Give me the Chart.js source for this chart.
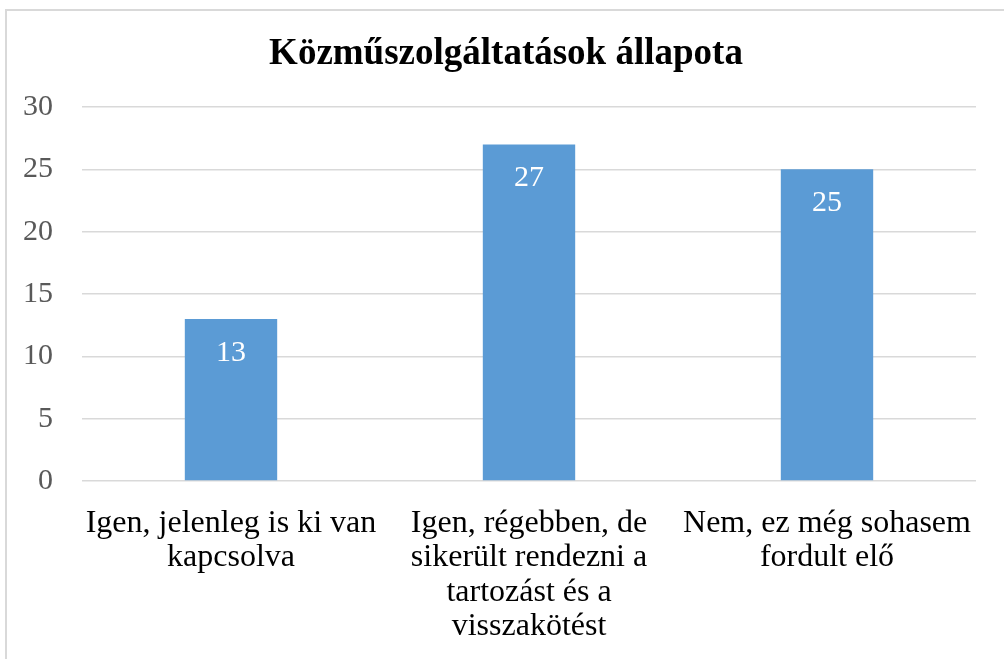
<!DOCTYPE html>
<html>
<head>
<meta charset="utf-8">
<script src="https://cdn.jsdelivr.net/npm/chart.js@4"></script>
<style>
  html, body { margin: 0; padding: 0; background: #fff; }
  #frame {
    position: absolute; left: 5px; top: 9px; width: 999px; height: 650px;
    border-left: 2px solid #d9d9d9; border-top: 2px solid #d9d9d9;
  }
  #chart { position: absolute; left: 0; top: 0; }
</style>
</head>
<body>
<div id="frame"></div>
<canvas id="chart" width="1004" height="659"></canvas>
<script>
const categories = [
  ['Igen, jelenleg is ki van', 'kapcsolva'],
  ['Igen, régebben, de', 'sikerült rendezni a', 'tartozást és a', 'visszakötést'],
  ['Nem, ez még sohasem', 'fordult elő']
];
const counts = [13, 27, 25];
const chartTitle = 'Közműszolgáltatások állapota';

const serif = '"Liberation Serif", "Times New Roman", serif';

// white value labels just inside the top of each bar
const barValueLabels = {
  id: 'barValueLabels',
  afterLayout(chart) {
    // centre the title over the framed box rather than the padded canvas
    if (chart.titleBlock) {
      chart.titleBlock.left = 36;
      chart.titleBlock.width = chart.titleBlock.right - 36;
    }
  },
  afterDatasetsDraw(chart) {
    const ctx = chart.ctx;
    const meta = chart.getDatasetMeta(0);
    ctx.save();
    ctx.fillStyle = '#ffffff';
    ctx.font = '30px ' + serif;
    ctx.textAlign = 'center';
    ctx.textBaseline = 'middle';
    meta.data.forEach((bar, i) => {
      ctx.fillText(String(counts[i]), bar.x, bar.y + 34);
    });
    ctx.restore();
  }
};

new Chart(document.getElementById('chart').getContext('2d'), {
  type: 'bar',
  data: {
    labels: categories,
    datasets: [{
      data: counts,
      backgroundColor: '#5b9bd5',
      borderWidth: 0,
      categoryPercentage: 1,
      barPercentage: 0.31
    }]
  },
  options: {
    responsive: false,
    animation: false,
    layout: { padding: { left: 0, right: 28, top: 10, bottom: 0 } },
    scales: {
      x: {
        grid: { display: false },
        border: { display: false },
        ticks: {
          color: '#000000',
          padding: 17,
          maxRotation: 0,
          autoSkip: false,
          font: { family: serif, size: 32, lineHeight: 1.08 }
        },
        afterFit: (scale) => { scale.height = 178; }
      },
      y: {
        min: 0,
        max: 30,
        grid: { color: '#d9d9d9', lineWidth: 1.5, drawTicks: false },
        border: { display: false },
        ticks: {
          stepSize: 5,
          color: '#595959',
          padding: 29,
          font: { family: serif, size: 30 }
        },
        afterFit: (scale) => { scale.width = 82; }
      }
    },
    plugins: {
      legend: { display: false },
      tooltip: { enabled: false },
      title: {
        display: true,
        text: chartTitle,
        color: '#000000',
        font: { family: serif, size: 37, weight: 'bold', lineHeight: 1.2 },
        padding: { top: 22, bottom: 30.6 }
      }
    }
  },
  plugins: [barValueLabels]
});
</script>
</body>
</html>
